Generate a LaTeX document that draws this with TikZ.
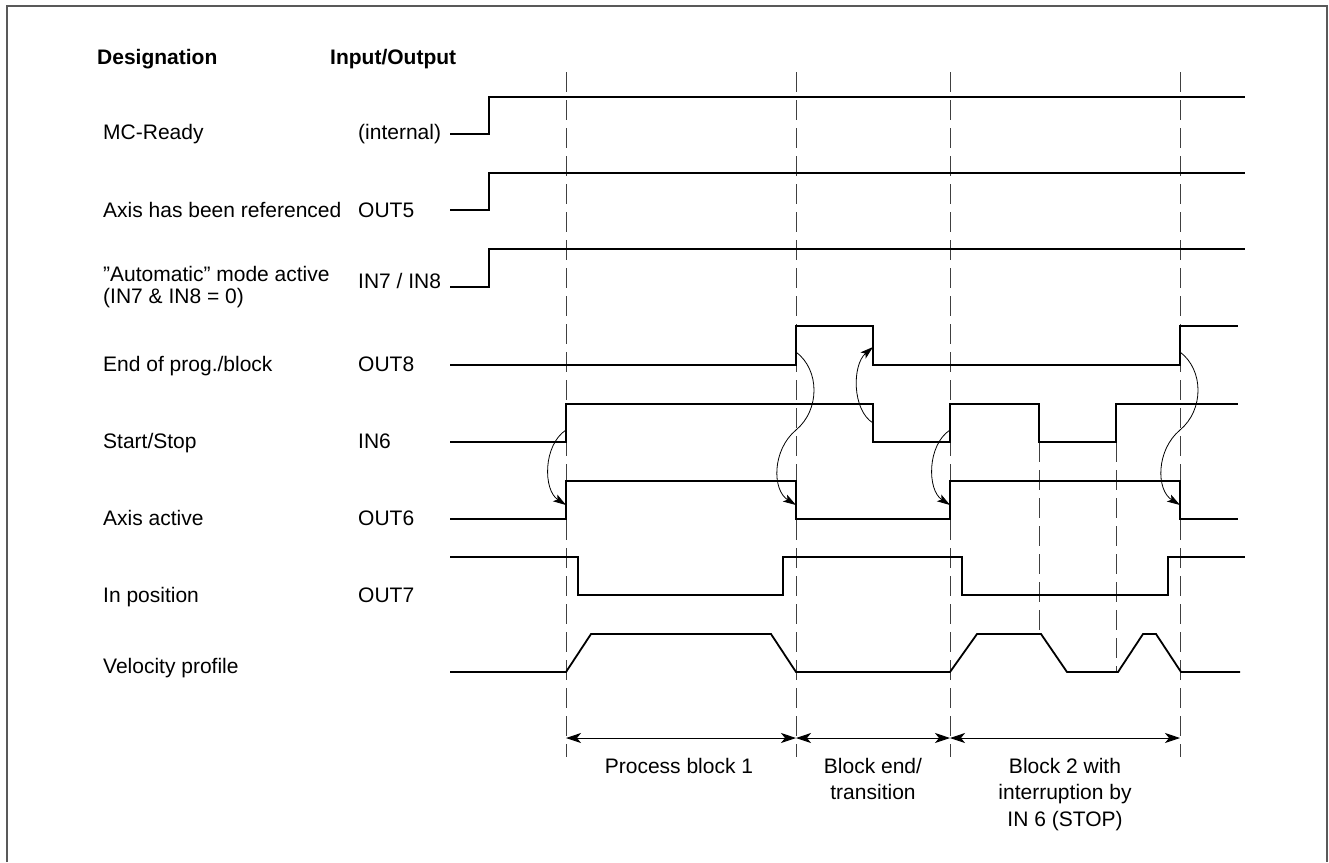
\documentclass[tikz,border=0pt]{standalone}
\usepackage{fontspec}
\setmainfont{Liberation Sans}
\usetikzlibrary{arrows.meta}

\tikzset{
  sig/.style={line width=1.8pt, line join=miter},
  guide/.style={line width=0.9pt, black!75, dash pattern=on 20pt off 8pt},
  cause/.style={line width=0.8pt, -{Stealth[length=13pt,width=8pt,inset=3pt]}},
  dimarr/.style={line width=0.9pt, {Stealth[length=15pt,width=10pt,inset=4pt]}-{Stealth[length=15pt,width=10pt,inset=4pt]}},
  lbl/.style={anchor=base west, inner sep=0pt, font=\fontsize{21}{26.5}\selectfont},
  hdr/.style={lbl, font=\fontsize{21}{26.5}\selectfont\bfseries},
  note/.style={anchor=base, inner sep=0pt, align=center, font=\fontsize{21}{26.5}\selectfont}
}

\begin{document}
\begin{tikzpicture}[x=1pt,y=-1pt]
  \useasboundingbox (0,0) rectangle (1329,862);
  % frame
  \draw[line width=1.2pt, black!65] (7,862) -- (7,6) -- (1327,6) -- (1327,862);

  % headings and signal names
  \node[hdr] (hdes) at (97,64) {Designation};
  \node[hdr] (hio) at (330,64) {Input/Output};
  \node[lbl] (nmc) at (103,139) {MC-Ready};
  \node[lbl] (iomc) at (358,139) {(internal)};
  \node[lbl] (nref) at (103,217) {Axis has been referenced};
  \node[lbl] (ioref) at (358,217) {OUT5};
  \node[lbl] (nauto) at (103,281) {”Automatic” mode active};
  \node[lbl] (nauto2) at (103,303) {(IN7 \& IN8 = 0)};
  \node[lbl] (ioauto) at (358,288) {IN7 / IN8};
  \node[lbl] (nend) at (103,371) {End of prog./block};
  \node[lbl] (ioend) at (358,371) {OUT8};
  \node[lbl] (nstart) at (103,448) {Start/Stop};
  \node[lbl] (iostart) at (358,448) {IN6};
  \node[lbl] (nact) at (103,525) {Axis active};
  \node[lbl] (ioact) at (358,525) {OUT6};
  \node[lbl] (npos) at (103,602) {In position};
  \node[lbl] (iopos) at (358,602) {OUT7};
  \node[lbl] (nvel) at (103,673) {Velocity profile};

  % phase lines
  \foreach \t in {566,796,950,1180}
    \draw[guide] (\t,72) -- (\t,757);
  \draw[guide] (1039,442) -- (1039,634);
  \draw[guide] (1116,442) -- (1116,672);

  % signals
  \draw[sig] (450,134) -- (489,134) -- (489,97) -- (1245,97);
  \draw[sig] (450,210) -- (489,210) -- (489,173) -- (1245,173);
  \draw[sig] (450,287) -- (489,287) -- (489,249) -- (1245,249);
  \draw[sig] (450,365) -| (796,326) -| (873,365) -| (1180,326) -- (1238,326);
  \draw[sig] (450,442) -| (566,404) -| (873,442) -| (950,404) -| (1039,442) -| (1116,404) -- (1238,404);
  \draw[sig] (450,519) -| (566,481) -| (796,519) -| (950,481) -| (1180,519) -- (1238,519);
  \draw[sig] (450,557) -| (578,595) -| (783,557) -| (962,595) -| (1168,557) -- (1245,557);
  \draw[sig] (450,672) -- (566,672) -- (591,634) -- (771,634) -- (796,672) -- (950,672)
    -- (977,634) -- (1041,634) -- (1067,672) -- (1118,672) -- (1143,634) -- (1156,634)
    -- (1181,672) -- (1240,672);

  % cause and effect
  \coordinate (st1) at (566,430);
  \coordinate (ax1) at (566,505);
  \coordinate (en1) at (796,352);
  \coordinate (ax2) at (796,505);
  \coordinate (st2) at (873,423);
  \coordinate (en2) at (873,347);
  \coordinate (st3) at (950,430);
  \coordinate (ax3) at (950,505);
  \coordinate (en3) at (1180,352);
  \coordinate (ax4) at (1180,505);
  \draw[cause] (st1) .. controls (543,445) and (543,490) .. (ax1);
  \draw[cause] (en1) .. controls (820,370) and (820,410) .. (796,430)
    .. controls (772,450) and (772,490) .. (ax2);
  \draw[cause] (st2) .. controls (852,410) and (852,365) .. (en2);
  \draw[cause] (st3) .. controls (927,445) and (927,490) .. (ax3);
  \draw[cause] (en3) .. controls (1204,370) and (1204,410) .. (1180,430)
    .. controls (1156,450) and (1156,490) .. (ax4);

  % phases
  \coordinate (p0) at (566,738);
  \coordinate (p1) at (796,738);
  \coordinate (p2) at (950,738);
  \coordinate (p3) at (1180,738);
  \draw[dimarr] (p0) -- (p1);
  \draw[dimarr] (p1) -- (p2);
  \draw[dimarr] (p2) -- (p3);
  \node[note] (ph1) at (679,773) {Process block 1};
  \node[note] (ph2) at (873,799.5) {Block end/\\transition};
  \node[note] (ph3) at (1065,826) {Block 2 with\\interruption by\\IN 6 (STOP)};
\end{tikzpicture}
\end{document}
